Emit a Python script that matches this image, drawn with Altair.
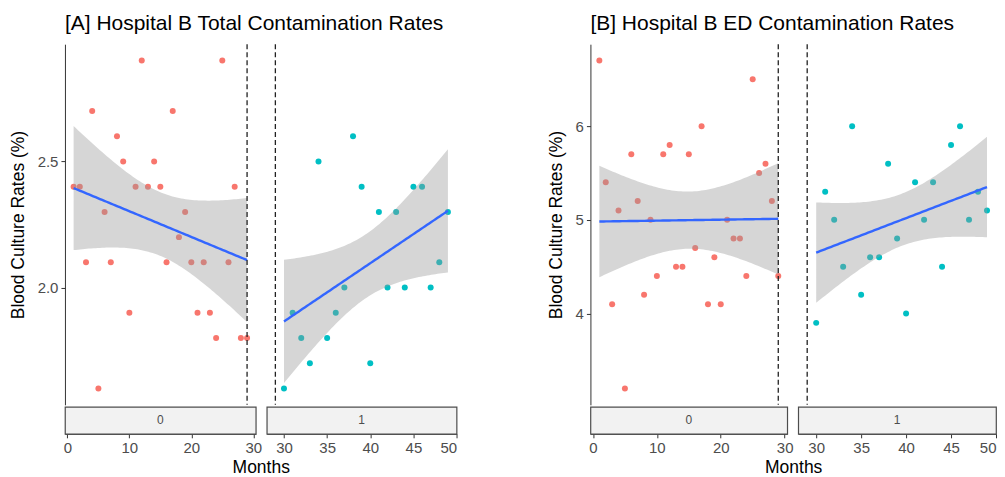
import numpy as np
import pandas as pd
import altair as alt

# ---------------- data ----------------
months_pre = list(range(1, 30))
months_post = list(range(30, 50))
total_pre = [2.4, 2.4, 2.1, 2.7, 1.6, 2.3, 2.1, 2.6, 2.5, 1.9, 2.4, 2.9, 2.4, 2.5, 2.4,
             2.1, 2.7, 2.2, 2.3, 2.1, 1.9, 2.1, 1.9, 1.8, 2.9, 2.1, 2.4, 1.8, 1.8]
total_post = [1.6, 1.9, 1.8, 1.7, 2.5, 1.8, 1.9, 2.0, 2.6, 2.4, 1.7, 2.3, 2.0, 2.3, 2.0,
              2.4, 2.4, 2.0, 2.1, 2.3]
ed_pre = [6.7, 5.4, 4.1, 5.1, 3.2, 5.7, 5.2, 4.2, 5.0, 4.4, 5.7, 5.8, 4.5, 4.5, 5.7,
          4.7, 6.0, 4.1, 4.6, 4.1, 5.0, 4.8, 4.8, 4.4, 6.5, 5.5, 5.6, 5.2, 4.4]
ed_post = [3.9, 5.3, 5.0, 4.5, 6.0, 4.2, 4.6, 4.6, 5.6, 4.8, 4.0, 5.4, 5.0, 5.4, 4.5,
           5.8, 6.0, 5.0, 5.3, 5.1]
intervention_month = [29]
facet_labels = ["0", "1"]
group_colors = ["#F8766D", "#00BFC4"]
x_ticks_pre = [0, 10, 20, 30]
x_ticks_post = [30, 35, 40, 45, 50]
y_ticks_total = [2.0, 2.5]
y_ticks_ed = [4, 5, 6]
titles = ["[A] Hospital B Total Contamination Rates", "[B] Hospital B ED Contamination Rates"]
y_title = "Blood Culture Rates (%)"
x_title = "Months"
t_crit = {29: 2.052, 20: 2.101}

FONT = "Liberation Sans"
PLOT_H = 361
STRIP_H = 27
ROW_GAP = 2


def fit_band(x, y):
    x = np.asarray(x, float)
    y = np.asarray(y, float)
    n = len(x)
    b1, b0 = np.polyfit(x, y, 1)
    resid = y - (b0 + b1 * x)
    s = np.sqrt(np.sum(resid ** 2) / (n - 2))
    xbar = x.mean()
    sxx = np.sum((x - xbar) ** 2)
    xs = np.linspace(x.min(), x.max(), 80)
    fit = b0 + b1 * xs
    se = s * np.sqrt(1.0 / n + (xs - xbar) ** 2 / sxx)
    t = t_crit[n]
    return pd.DataFrame({"month": xs, "fit": fit, "lo": fit - t * se, "hi": fit + t * se})


def panel(months, rates, color, xdom, xticks, ydom, yticks, width,
          show_y, title=None, months_title_x=None):
    pts = pd.DataFrame({"month": months, "rate": rates})
    band_df = fit_band(months, rates)
    vl = pd.DataFrame({"month": intervention_month})
    xscale = alt.Scale(domain=xdom, nice=False, zero=False)
    yscale = alt.Scale(domain=ydom, nice=False, zero=False)
    xkw = dict(values=xticks, offset=ROW_GAP + STRIP_H, format="d", labelPadding=3)
    if months_title_x is not None:
        xkw.update(title=x_title, titleX=months_title_x, titleAlign="center",
                   titleAnchor="start", titlePadding=3)
    else:
        xkw.update(title="")
    xaxis = alt.Axis(**xkw)
    if show_y:
        yaxis = alt.Axis(values=yticks, title=y_title, format=".1f" if yticks[0] < 3 else "d",
                         titlePadding=10, labelPadding=3)
    else:
        yaxis = None
    xenc = alt.X("month:Q", scale=xscale, axis=xaxis)

    def yenc(field):
        if yaxis is None:
            return alt.Y(field, scale=yscale, axis=None)
        return alt.Y(field, scale=yscale, axis=yaxis)

    points = alt.Chart(pts).mark_circle(size=36, opacity=1, color=color).encode(
        x=xenc, y=yenc("rate:Q"))
    band = alt.Chart(band_df).mark_area(color="#999999", opacity=0.4, clip=True).encode(
        x=xenc, y=yenc("lo:Q"), y2="hi:Q")
    line = alt.Chart(band_df).mark_line(color="#3366FF", strokeWidth=2.4, clip=True).encode(
        x=xenc, y=yenc("fit:Q"))
    rule = alt.Chart(vl).mark_rule(color="#222222", strokeDash=[5, 3], strokeWidth=1.3).encode(
        x=xenc)
    props = dict(width=width, height=PLOT_H)
    if title is not None:
        props["title"] = alt.TitleParams(title, anchor="start", frame="group", offset=10)
    return alt.layer(points, band, line, rule).properties(**props)


def strip(label, width):
    return alt.Chart(pd.DataFrame({"lab": [label]})).mark_text(
        font=FONT, fontSize=12, color="#4D4D4D").encode(
        text="lab:N", x=alt.value(width / 2), y=alt.value(STRIP_H / 2)
    ).properties(width=width, height=STRIP_H,
                 view=alt.ViewBackground(fill="#F2F2F2", stroke="#4D4D4D", strokeWidth=1.2))


def spacer(h):
    return alt.Chart(pd.DataFrame({"t": [""]})).mark_text().encode(text="t:N").properties(
        width=112, height=h)


W_A0, W_A1, W_B0, W_B1 = 191, 190, 197, 198
dom_pre = [-0.4, 30.4]
dom_post = [28, 50]
dom_total = [1.535, 2.965]
dom_ed = [3.025, 6.875]

a0 = panel(months_pre, total_pre, group_colors[0], dom_pre, x_ticks_pre, dom_total,
           y_ticks_total, W_A0, True, titles[0], months_title_x=(W_A0 + 11 + W_A1) / 2)
a1 = panel(months_post, total_post, group_colors[1], dom_post, x_ticks_post, dom_total,
           y_ticks_total, W_A1, False)
b0 = panel(months_pre, ed_pre, group_colors[0], dom_pre, x_ticks_pre, dom_ed,
           y_ticks_ed, W_B0, True, titles[1], months_title_x=(W_B0 + 11 + W_B1) / 2)
b1 = panel(months_post, ed_post, group_colors[1], dom_post, x_ticks_post, dom_ed,
           y_ticks_ed, W_B1, False)

chart = alt.concat(
    a0, a1, spacer(PLOT_H), b0, b1,
    strip(facet_labels[0], W_A0), strip(facet_labels[1], W_A1), spacer(STRIP_H),
    strip(facet_labels[0], W_B0), strip(facet_labels[1], W_B1),
    columns=5,
    spacing=alt.RowColnumber(row=ROW_GAP, column=11),
    bounds="flush",
).properties(
    padding={"left": 1, "top": 4, "right": 0, "bottom": 0}
).configure_view(
    strokeWidth=0
).configure_axis(
    labelFont=FONT, titleFont=FONT, labelFontSize=15, titleFontSize=17.5,
    titleFontWeight="normal", labelColor="#4D4D4D", titleColor="black",
    domainColor="#333333", tickColor="#333333", grid=False, tickSize=4
).configure_title(
    font=FONT, fontSize=21, fontWeight="normal", color="black"
)

chart.save("out.html", embed_options={"renderer": "svg", "actions": False})
